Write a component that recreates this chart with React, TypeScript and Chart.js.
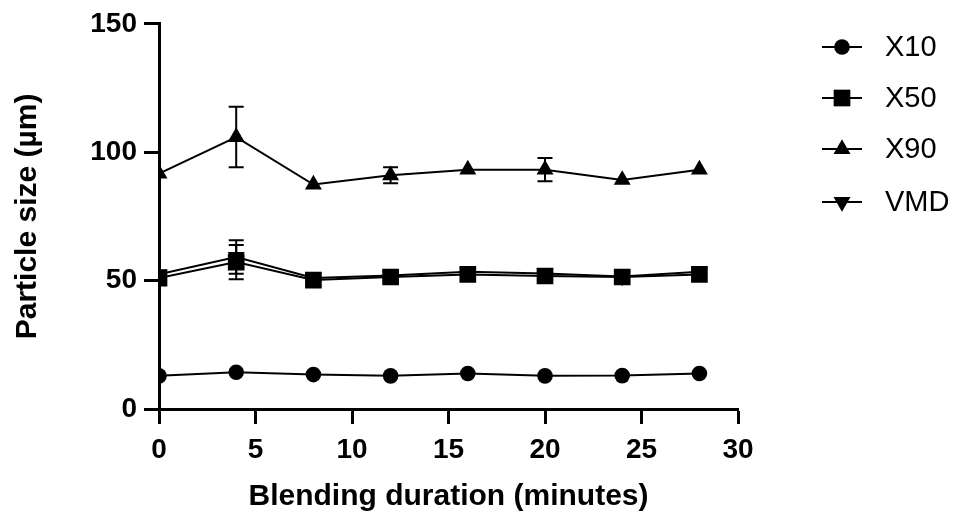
import React, { useEffect, useRef } from "react";
import { Chart, registerables } from "chart.js";

Chart.register(...registerables);

const times = [0, 4, 8, 12, 16, 20, 24, 28];
const seriesNames = ["X10", "X50", "X90", "VMD"];
const x10 = [12.9, 14.3, 13.4, 12.9, 13.8, 12.9, 13.0, 13.8];
const x10Err = [0, 0, 0, 0, 0, 0, 0, 0];
const x50 = [51.0, 57.2, 50.2, 51.4, 52.4, 51.8, 51.4, 52.4];
const x50Err = [0, 6.7, 0, 0, 0, 0, 0, 0];
const x90 = [91.7, 105.9, 87.4, 91.0, 93.2, 93.2, 89.2, 93.2];
const x90Err = [0, 11.8, 0, 3.1, 0, 4.5, 0, 0];
const vmd = [52.5, 59.2, 51.0, 52.0, 53.4, 52.8, 51.6, 53.4];
const vmdErr = [0, 6.5, 0, 0, 0, 0, 0, 0];
const xTicks = [0, 5, 10, 15, 20, 25, 30];
const yTicks = [0, 50, 100, 150];

const markerStyles = [
  { pointStyle: "circle", radius: 7.8, rotation: 0 },
  { pointStyle: "rect", radius: 11.8, rotation: 0 },
  { pointStyle: "triangle", radius: 9.8, rotation: 0 },
  { pointStyle: "triangle", radius: 9.8, rotation: 180 },
];

const FONT = "'Liberation Sans', Arial, Helvetica, sans-serif";

const errorBarPlugin = {
  id: "errorBars",
  beforeDatasetsDraw(chart: any) {
    const ctx = chart.ctx;
    const ys = chart.scales.y;
    const xs = chart.scales.x;
    ctx.save();
    ctx.strokeStyle = "#000";
    ctx.lineWidth = 2;
    chart.data.datasets.forEach((ds: any) => {
      const errs: number[] = ds.errors || [];
      ds.data.forEach((p: any, i: number) => {
        const e = errs[i] || 0;
        if (!e) return;
        const px = xs.getPixelForValue(p.x);
        const top = ys.getPixelForValue(p.y + e);
        const bot = ys.getPixelForValue(p.y - e);
        ctx.beginPath();
        ctx.moveTo(px, top);
        ctx.lineTo(px, bot);
        ctx.moveTo(px - 7.5, top);
        ctx.lineTo(px + 7.5, top);
        ctx.moveTo(px - 7.5, bot);
        ctx.lineTo(px + 7.5, bot);
        ctx.stroke();
      });
    });
    ctx.restore();
  },
};

function drawMarker(ctx: CanvasRenderingContext2D, style: string, r: number, rot: number, x: number, y: number) {
  ctx.beginPath();
  if (style === "circle") {
    ctx.arc(x, y, r, 0, Math.PI * 2);
  } else if (style === "rect") {
    const s = Math.SQRT1_2 * r;
    ctx.rect(x - s, y - s, 2 * s, 2 * s);
  } else {
    const a0 = (rot * Math.PI) / 180;
    for (let k = 0; k < 3; k++) {
      const a = a0 + (k * 2 * Math.PI) / 3;
      const px = x + Math.sin(a) * r;
      const py = y - Math.cos(a) * r;
      if (k === 0) ctx.moveTo(px, py);
      else ctx.lineTo(px, py);
    }
    ctx.closePath();
  }
  ctx.fill();
}

const legendPlugin = {
  id: "customLegend",
  afterDraw(chart: any) {
    const ctx = chart.ctx;
    const rows = [47, 98, 149, 202];
    ctx.save();
    seriesNames.forEach((name, i) => {
      const y = rows[i];
      ctx.strokeStyle = "#000";
      ctx.lineWidth = 2;
      ctx.beginPath();
      ctx.moveTo(822, y);
      ctx.lineTo(862, y);
      ctx.stroke();
      const m = markerStyles[i];
      ctx.fillStyle = "#000";
      drawMarker(ctx, m.pointStyle, m.radius, m.rotation, 842, y);
      ctx.font = `29px ${FONT}`;
      ctx.textBaseline = "middle";
      ctx.textAlign = "left";
      ctx.fillText(name, 885, y + 1);
    });
    ctx.restore();
  },
};

export default function App() {
  const ref = useRef<HTMLCanvasElement | null>(null);
  useEffect(() => {
    if (!ref.current) return;
    const values = [x10, x50, x90, vmd];
    const errors = [x10Err, x50Err, x90Err, vmdErr];
    const chart = new Chart(ref.current, {
      type: "line",
      data: {
        datasets: seriesNames.map((name, i) => ({
          label: name,
          data: times.map((t, j) => ({ x: t, y: values[i][j] })),
          errors: errors[i],
          borderColor: "#000",
          backgroundColor: "#000",
          borderWidth: 2,
          pointStyle: markerStyles[i].pointStyle,
          pointRadius: markerStyles[i].radius,
          pointRotation: markerStyles[i].rotation,
          pointBorderWidth: 0,
          pointHoverRadius: markerStyles[i].radius,
          tension: 0,
          fill: false,
        })) as any,
      },
      options: {
        animation: false,
        responsive: true,
        maintainAspectRatio: false,
        layout: { padding: { left: 0, right: 217, top: 20, bottom: 0 } },
        plugins: {
          legend: { display: false },
          tooltip: { enabled: false },
        },
        scales: {
          x: {
            type: "linear",
            min: 0,
            max: 30,
            afterFit(scale: any) {
              scale.height = 107;
            },
            afterBuildTicks(scale: any) {
              scale.ticks = xTicks.map((v) => ({ value: v }));
            },
            border: { display: true, color: "#000", width: 3 },
            grid: {
              drawOnChartArea: false,
              drawTicks: true,
              tickLength: 15,
              tickWidth: 3,
              tickColor: "#000",
            },
            ticks: {
              color: "#000",
              padding: 9,
              maxRotation: 0,
              font: { family: FONT, size: 28, weight: "bold" },
            },
            title: {
              display: true,
              text: "Blending duration (minutes)",
              color: "#000",
              font: { family: FONT, size: 30, weight: "bold" },
              padding: { top: 0, bottom: 1 },
            },
          },
          y: {
            type: "linear",
            min: 0,
            max: 150,
            afterFit(scale: any) {
              scale.width = 159;
            },
            afterBuildTicks(scale: any) {
              scale.ticks = yTicks.map((v) => ({ value: v }));
            },
            border: { display: true, color: "#000", width: 3 },
            grid: {
              drawOnChartArea: false,
              drawTicks: true,
              tickLength: 15,
              tickWidth: 3,
              tickColor: "#000",
            },
            ticks: {
              color: "#000",
              padding: 7,
              font: { family: FONT, size: 28, weight: "bold" },
            },
            title: {
              display: true,
              text: "Particle size (µm)",
              color: "#000",
              font: { family: FONT, size: 30, weight: "bold" },
              padding: { top: 10, bottom: 0 },
            },
          },
        },
      } as any,
      plugins: [errorBarPlugin, legendPlugin],
    });
    return () => chart.destroy();
  }, []);
  return (
    <div style={{ position: "absolute", left: 0, top: 0, width: 955, height: 516, background: "#fff" }}>
      <canvas ref={ref} />
    </div>
  );
}
